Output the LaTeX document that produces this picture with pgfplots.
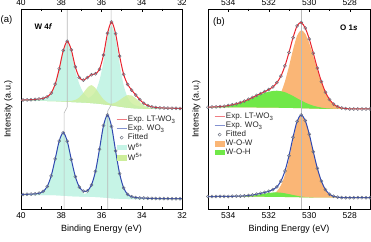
\documentclass[border=0pt]{standalone}
\usepackage{pgfplots}
\pgfplotsset{compat=1.18}
\usepackage{pgfplotstable}
\usepgfplotslibrary{fillbetween}
\usepackage{fontspec}
\setmainfont{Liberation Sans}
\definecolor{expred}{RGB}{232,36,46}
\definecolor{expblue}{RGB}{48,72,176}
\definecolor{fitgray}{RGB}{105,110,125}
\definecolor{wsix}{RGB}{198,244,230}
\definecolor{wfive}{RGB}{205,238,155}
\definecolor{wow}{RGB}{250,182,118}
\definecolor{woh}{RGB}{112,232,72}
\definecolor{guide}{RGB}{185,185,185}

\pgfplotstableread{
x bg a1 a2 b1 b2 tot
40.0 108.0 108.2 108.6 108.1 108.0 108.9
39.9 108.0 108.2 108.7 108.1 108.0 109.0
39.7 108.0 108.2 108.8 108.1 108.0 109.1
39.5 108.0 108.3 108.9 108.1 108.0 109.3
39.3 108.0 108.3 109.2 108.1 108.0 109.6
39.1 108.0 108.3 109.5 108.1 108.0 110.0
38.9 108.0 108.4 110.1 108.2 108.0 110.7
38.7 108.0 108.4 111.6 108.2 108.0 112.2
38.5 107.9 108.4 115.3 108.1 107.9 116.0
38.3 107.8 108.3 124.1 108.1 107.8 124.9
38.1 107.6 108.2 139.3 108.0 107.6 140.3
37.9 107.4 108.1 157.3 107.9 107.4 158.5
37.7 107.2 108.1 166.2 107.9 107.2 167.7
37.5 107.0 108.0 156.9 108.1 107.0 159.1
37.3 106.8 108.1 138.5 109.1 106.9 142.1
37.1 106.6 108.2 124.9 111.6 106.7 131.5
36.9 106.4 109.3 116.3 116.1 106.5 128.9
36.7 106.2 110.6 111.8 121.4 106.3 131.4
36.5 105.9 112.8 109.2 123.9 106.0 134.2
36.3 105.6 117.7 107.7 120.8 105.7 135.2
36.1 105.2 128.8 106.4 114.9 105.4 139.8
35.9 104.7 147.7 105.6 109.7 105.1 154.0
35.7 104.2 171.9 105.0 106.5 104.9 175.7
35.5 103.6 183.6 104.3 104.7 105.2 187.0
35.3 103.0 170.7 103.5 103.7 106.5 175.4
35.1 102.4 145.4 102.9 102.9 108.9 152.9
34.9 101.8 123.9 102.2 102.2 111.8 134.7
34.7 101.3 111.4 101.7 101.6 113.9 124.6
34.5 100.9 105.8 101.2 101.1 113.5 118.9
34.3 100.6 103.5 100.9 100.8 110.6 114.0
34.1 100.4 102.5 100.6 100.6 106.9 109.4
33.9 100.2 101.8 100.4 100.3 103.7 105.7
33.7 100.1 101.4 100.3 100.2 101.7 103.4
33.5 100.0 101.0 100.2 100.1 100.7 102.1
33.3 100.0 100.9 100.2 100.1 100.4 101.5
33.1 100.0 100.7 100.2 100.1 100.2 101.2
32.9 100.0 100.6 100.2 100.1 100.1 101.0
32.7 100.0 100.5 100.2 100.1 100.1 100.9
32.5 100.0 100.5 100.1 100.1 100.1 100.8
32.3 100.0 100.4 100.1 100.1 100.1 100.7
32.1 100.0 100.4 100.1 100.1 100.1 100.6
32.0 100.0 100.3 100.1 100.1 100.1 100.6
}\WUp

\pgfplotstableread{
x bg c1 c2 tot
40.0 14.0 14.1 14.4 14.5
39.9 14.0 14.1 14.5 14.6
39.7 14.0 14.2 14.6 14.7
39.5 14.0 14.2 14.7 14.9
39.3 14.0 14.2 14.9 15.1
39.1 14.0 14.2 15.6 15.8
38.9 14.0 14.3 17.3 17.6
38.7 14.0 14.3 22.2 22.5
38.5 13.9 14.2 32.8 33.1
38.3 13.8 14.2 49.7 50.1
38.1 13.6 14.0 67.7 68.1
37.9 13.3 13.8 75.8 76.3
37.7 13.0 13.6 67.1 67.7
37.5 12.8 13.5 48.7 49.5
37.3 12.6 13.5 31.5 32.4
37.1 12.5 13.7 20.7 21.9
36.9 12.4 14.5 15.7 17.8
36.7 12.3 16.7 13.9 18.2
36.5 12.2 23.0 13.1 24.0
36.3 12.0 36.9 12.7 37.6
36.1 11.8 59.2 12.4 59.8
35.9 11.5 83.0 12.0 83.4
35.7 11.1 93.6 11.5 94.0
35.5 10.7 82.2 11.0 82.5
35.3 10.4 57.8 10.7 58.1
35.1 10.2 35.1 10.4 35.4
34.9 10.1 20.9 10.3 21.1
34.7 10.0 14.4 10.2 14.6
34.5 10.0 12.1 10.2 12.2
34.3 10.0 11.2 10.2 11.4
34.1 10.0 10.9 10.1 11.1
33.9 10.0 10.7 10.1 10.9
33.7 10.0 10.6 10.1 10.7
33.5 10.0 10.5 10.1 10.6
33.3 10.0 10.4 10.1 10.5
33.1 10.0 10.4 10.1 10.5
32.9 10.0 10.3 10.1 10.4
32.7 10.0 10.3 10.1 10.4
32.5 10.0 10.3 10.1 10.3
32.3 10.0 10.2 10.1 10.3
32.1 10.0 10.2 10.1 10.3
32.0 10.0 10.2 10.1 10.3
}\WLo

\pgfplotstableread{
x bg o g tot
535.0 101.5 101.7 101.7 101.8
534.8 101.5 101.7 101.8 102.0
534.6 101.5 101.7 101.9 102.2
534.4 101.5 101.7 102.2 102.4
534.2 101.5 101.8 102.6 102.8
534.0 101.5 101.8 103.1 103.4
533.8 101.5 101.8 103.9 104.2
533.6 101.5 101.9 104.8 105.2
533.4 101.5 101.9 106.0 106.4
533.2 101.5 102.0 107.5 107.9
533.0 101.5 102.1 109.1 109.7
532.8 101.5 102.1 110.9 111.5
532.6 101.5 102.3 112.8 113.6
532.4 101.4 102.3 114.5 115.4
532.2 101.4 102.7 116.1 117.4
532.0 101.4 103.6 117.3 119.5
531.8 101.3 105.4 118.0 122.1
531.6 101.3 109.3 118.3 126.3
531.4 101.2 116.3 117.8 132.9
531.2 101.2 127.5 116.8 143.1
531.0 101.1 142.7 115.0 156.6
530.8 101.0 159.4 113.0 171.4
530.6 100.9 173.3 110.7 183.1
530.4 100.8 178.8 108.5 186.5
530.2 100.6 175.3 106.4 181.0
530.0 100.5 165.9 104.7 170.1
529.8 100.4 152.9 103.3 155.8
529.6 100.3 138.9 102.2 140.8
529.4 100.2 126.2 101.4 127.4
529.2 100.1 116.1 100.8 116.8
529.0 100.1 109.2 100.5 109.6
528.8 100.0 104.7 100.2 104.9
528.6 100.0 102.2 100.1 102.3
528.4 100.0 100.9 100.1 101.0
528.2 100.0 100.4 100.0 100.4
528.0 100.0 100.1 100.0 100.1
527.8 100.0 100.0 100.0 100.0
527.6 100.0 100.0 100.0 100.0
527.4 100.0 100.0 100.0 100.0
527.2 100.0 100.0 100.0 100.0
527.0 100.0 100.0 100.0 100.0
}\OUp

\pgfplotstableread{
x bg o g tot
535.0 12.3 12.5 12.3 12.5
534.8 12.3 12.5 12.3 12.5
534.6 12.3 12.5 12.3 12.5
534.4 12.3 12.6 12.3 12.6
534.2 12.3 12.6 12.3 12.6
534.0 12.3 12.6 12.3 12.6
533.8 12.3 12.6 12.3 12.7
533.6 12.3 12.7 12.4 12.8
533.4 12.3 12.7 12.5 12.9
533.2 12.3 12.8 12.7 13.1
533.0 12.3 12.9 12.9 13.5
532.8 12.3 13.0 13.4 14.0
532.6 12.3 13.1 14.0 14.8
532.4 12.3 13.3 14.7 15.7
532.2 12.25 13.5 15.4 16.6
532.0 12.2 13.9 16.0 17.7
531.8 12.15 15.1 16.5 19.4
531.6 12.1 17.7 16.6 22.2
531.4 12.05 23.6 16.3 27.9
531.2 12.0 34.3 15.7 38.0
531.0 11.95 50.3 14.9 53.3
530.8 11.9 69.7 14.0 71.8
530.6 11.8 86.4 13.2 87.7
530.4 11.7 93.2 12.5 94.0
530.2 11.6 88.1 12.0 88.5
530.0 11.5 74.6 11.7 74.8
529.8 11.45 57.3 11.5 57.3
529.6 11.4 40.7 11.4 40.7
529.4 11.35 27.8 11.35 27.8
529.2 11.3 19.4 11.3 19.4
529.0 11.3 14.8 11.3 14.8
528.8 11.3 12.7 11.3 12.7
528.6 11.3 11.8 11.3 11.8
528.4 11.3 11.4 11.3 11.4
528.2 11.3 11.3 11.3 11.3
528.0 11.3 11.3 11.3 11.3
527.8 11.3 11.3 11.3 11.3
527.6 11.3 11.3 11.3 11.3
527.4 11.3 11.3 11.3 11.3
527.2 11.3 11.3 11.3 11.3
527.0 11.3 11.3 11.3 11.3
}\OLo

\pgfplotsset{
  shortline/.style={legend image code/.code={\draw[mark repeat=2,mark phase=2,##1] plot coordinates {(0pt,0pt) (5pt,0pt) (10pt,0pt)};}},
  shortarea/.style={legend image code/.code={\fill[##1] (0pt,-2.8pt) rectangle (10.5pt,2.8pt);}},
  xps/.style={
    scale only axis, height=200pt,
    x dir=reverse, ymin=0, ymax=200, ytick=\empty,
    tick align=inside, minor x tick num=1,
    major tick length=3pt, minor tick length=2pt,
    every tick/.style={black, line width=0.5pt},
    axis line style={line width=0.6pt},
    tick label style={font=\fontsize{8.5}{10}\selectfont},
    /pgf/number format/assume math mode=true,
    label style={font=\fontsize{9}{11}\selectfont},
    legend cell align=left,
  },
  toponly/.style={
    scale only axis, height=200pt,
    x dir=reverse, ymin=0, ymax=200,
    axis x line*=top, axis y line=none,
    tick align=inside, minor x tick num=1,
    major tick length=3pt, minor tick length=2pt,
    every tick/.style={black, line width=0.5pt},
    axis line style={line width=0.6pt},
    tick label style={font=\fontsize{8.5}{10}\selectfont},
    /pgf/number format/assume math mode=true,
  },
  leg/.style={legend style={draw=none, fill=none, font=\fontsize{8}{9}\selectfont,
     text=black!85, nodes={inner sep=0.8pt}, row sep=0.3pt, inner sep=0pt}},
  fitmk/.style={only marks, mark=o, mark size=1.55pt, fitgray, mark options={line width=0.45pt}},
}

\begin{document}
\begin{tikzpicture}
% ---------------- left panel ----------------
\begin{axis}[xps, name=L, at={(0pt,0pt)}, anchor=south west, width=161pt,
  xmin=32, xmax=40, xtick={32,34,36,38,40},
  xlabel={Binding Energy (eV)}, ylabel={Intensity (a.u.)},
  ylabel style={at={(axis description cs:-0.031,0.5)}, anchor=south},
  leg, legend style={at={(axis description cs:0.59,0.47)}, anchor=north west}]
\addlegendimage{shortline, expred!60, line width=1pt}
\addlegendentry{Exp. LT-WO\textsubscript{3}}
\addlegendimage{shortline, expblue!60, line width=1pt}
\addlegendentry{Exp. WO\textsubscript{3}}
\addlegendimage{shortline, fitmk}
\addlegendentry{Fitted}
\addlegendimage{shortarea, fill=wsix, draw=none}
\addlegendentry{W\textsuperscript{6+}}
\addlegendimage{shortarea, fill=wfive, draw=none}
\addlegendentry{W\textsuperscript{5+}}

\addplot[draw=none, name path=ubg, smooth, forget plot] table[x=x,y=bg]{\WUp};
\addplot[draw=none, name path=ua1, smooth, forget plot] table[x=x,y=a1]{\WUp};
\addplot[draw=none, name path=ua2, smooth, forget plot] table[x=x,y=a2]{\WUp};
\addplot[draw=none, name path=ub1, smooth, forget plot] table[x=x,y=b1]{\WUp};
\addplot[draw=none, name path=ub2, smooth, forget plot] table[x=x,y=b2]{\WUp};
\addplot[fill=wsix, draw=none, forget plot] fill between[of=ua1 and ubg];
\addplot[fill=wsix, draw=none, forget plot] fill between[of=ua2 and ubg];
\addplot[fill=wfive, fill opacity=0.8, draw=none, forget plot] fill between[of=ub1 and ubg];
\addplot[fill=wfive, fill opacity=0.8, draw=none, forget plot] fill between[of=ub2 and ubg];

\addplot[draw=none, name path=lbg, smooth, forget plot] table[x=x,y=bg]{\WLo};
\addplot[draw=none, name path=lc1, smooth, forget plot] table[x=x,y=c1]{\WLo};
\addplot[draw=none, name path=lc2, smooth, forget plot] table[x=x,y=c2]{\WLo};
\addplot[fill=wsix, draw=none, forget plot] fill between[of=lc1 and lbg];
\addplot[fill=wsix, draw=none, forget plot] fill between[of=lc2 and lbg];

\addplot[guide, line width=0.6pt, forget plot] coordinates {(37.70,200) (37.70,102) (37.86,96) (37.86,0)};
\addplot[guide, line width=0.6pt, forget plot] coordinates {(35.52,200) (35.52,104) (35.69,98) (35.69,0)};

\addplot[expred, line width=1pt, smooth, forget plot] table[x=x,y=tot]{\WUp};
\addplot[fitmk, skip coords between index={0}{1}, skip coords between index={41}{42}, forget plot] table[x=x,y=tot]{\WUp};
\addplot[expblue, line width=1pt, smooth, forget plot] table[x=x,y=tot]{\WLo};
\addplot[fitmk, skip coords between index={0}{1}, skip coords between index={41}{42}, forget plot] table[x=x,y=tot]{\WLo};
\end{axis}
\begin{axis}[toponly, at={(0pt,0pt)}, anchor=south west, width=161pt,
  xmin=32, xmax=40, xtick={32,34,36,38,40}]
\end{axis}

% ---------------- right panel ----------------
\begin{axis}[xps, name=R, at={(187pt,0pt)}, anchor=south west, width=162pt,
  xmin=527, xmax=535, xtick={528,530,532,534},
  xlabel={Binding Energy (eV)}, ylabel={Intensity (a.u.)},
  ylabel style={at={(axis description cs:-0.025,0.5)}, anchor=south},
  leg, legend style={at={(axis description cs:0.037,0.485)}, anchor=north west}]
\addlegendimage{shortline, expred!60, line width=1pt}
\addlegendentry{Exp. LT-WO\textsubscript{3}}
\addlegendimage{shortline, expblue!60, line width=1pt}
\addlegendentry{Exp. WO\textsubscript{3}}
\addlegendimage{shortline, fitmk}
\addlegendentry{Fitted}
\addlegendimage{shortarea, fill=wow, draw=none}
\addlegendentry{W-O-W}
\addlegendimage{shortarea, fill=woh, draw=none}
\addlegendentry{W-O-H}

\addplot[draw=none, name path=obu, smooth, forget plot] table[x=x,y=bg]{\OUp};
\addplot[draw=none, name path=oou, smooth, forget plot] table[x=x,y=o]{\OUp};
\addplot[draw=none, name path=ogu, smooth, forget plot] table[x=x,y=g]{\OUp};
\addplot[fill=wow, draw=none, forget plot] fill between[of=oou and obu];
\addplot[fill=woh, draw=none, forget plot] fill between[of=ogu and obu];

\addplot[draw=none, name path=obl, smooth, forget plot] table[x=x,y=bg]{\OLo};
\addplot[draw=none, name path=ool, smooth, forget plot] table[x=x,y=o]{\OLo};
\addplot[draw=none, name path=ogl, smooth, forget plot] table[x=x,y=g]{\OLo};
\addplot[fill=wow, draw=none, forget plot] fill between[of=ool and obl];
\addplot[fill=woh, draw=none, forget plot] fill between[of=ogl and obl];

\addplot[guide, line width=0.6pt, forget plot] coordinates {(530.38,200) (530.38,0)};

\addplot[expred, line width=1pt, smooth, forget plot] table[x=x,y=tot]{\OUp};
\addplot[fitmk, forget plot] table[x=x,y=tot]{\OUp};
\addplot[expblue, line width=1pt, smooth, forget plot] table[x=x,y=tot]{\OLo};
\addplot[fitmk, forget plot] table[x=x,y=tot]{\OLo};
\end{axis}
\begin{axis}[toponly, at={(187pt,0pt)}, anchor=south west, width=162pt,
  xmin=527, xmax=535, xtick={528,530,532,534}]
\end{axis}

\node[font=\fontsize{9.5}{11}\selectfont] at ([xshift=-14.5pt,yshift=-11pt]L.north west) {(a)};
\node[font=\fontsize{9.5}{11}\selectfont] at ([xshift=11pt,yshift=-13pt]R.north west) {(b)};
\node[anchor=west, font=\bfseries\fontsize{8}{9}\selectfont] at ([xshift=10pt,yshift=-17.5pt]L.north west) {W 4\textit{f}};
\node[anchor=east, font=\bfseries\fontsize{8}{9}\selectfont] at ([xshift=-9pt,yshift=-19pt]R.north east) {O 1\textit{s}};

\pgfresetboundingbox
\path[use as bounding box] ([xshift=-21pt,yshift=-32pt]L.south west) rectangle ([xshift=1pt,yshift=9pt]R.north east);
\end{tikzpicture}
\end{document}
